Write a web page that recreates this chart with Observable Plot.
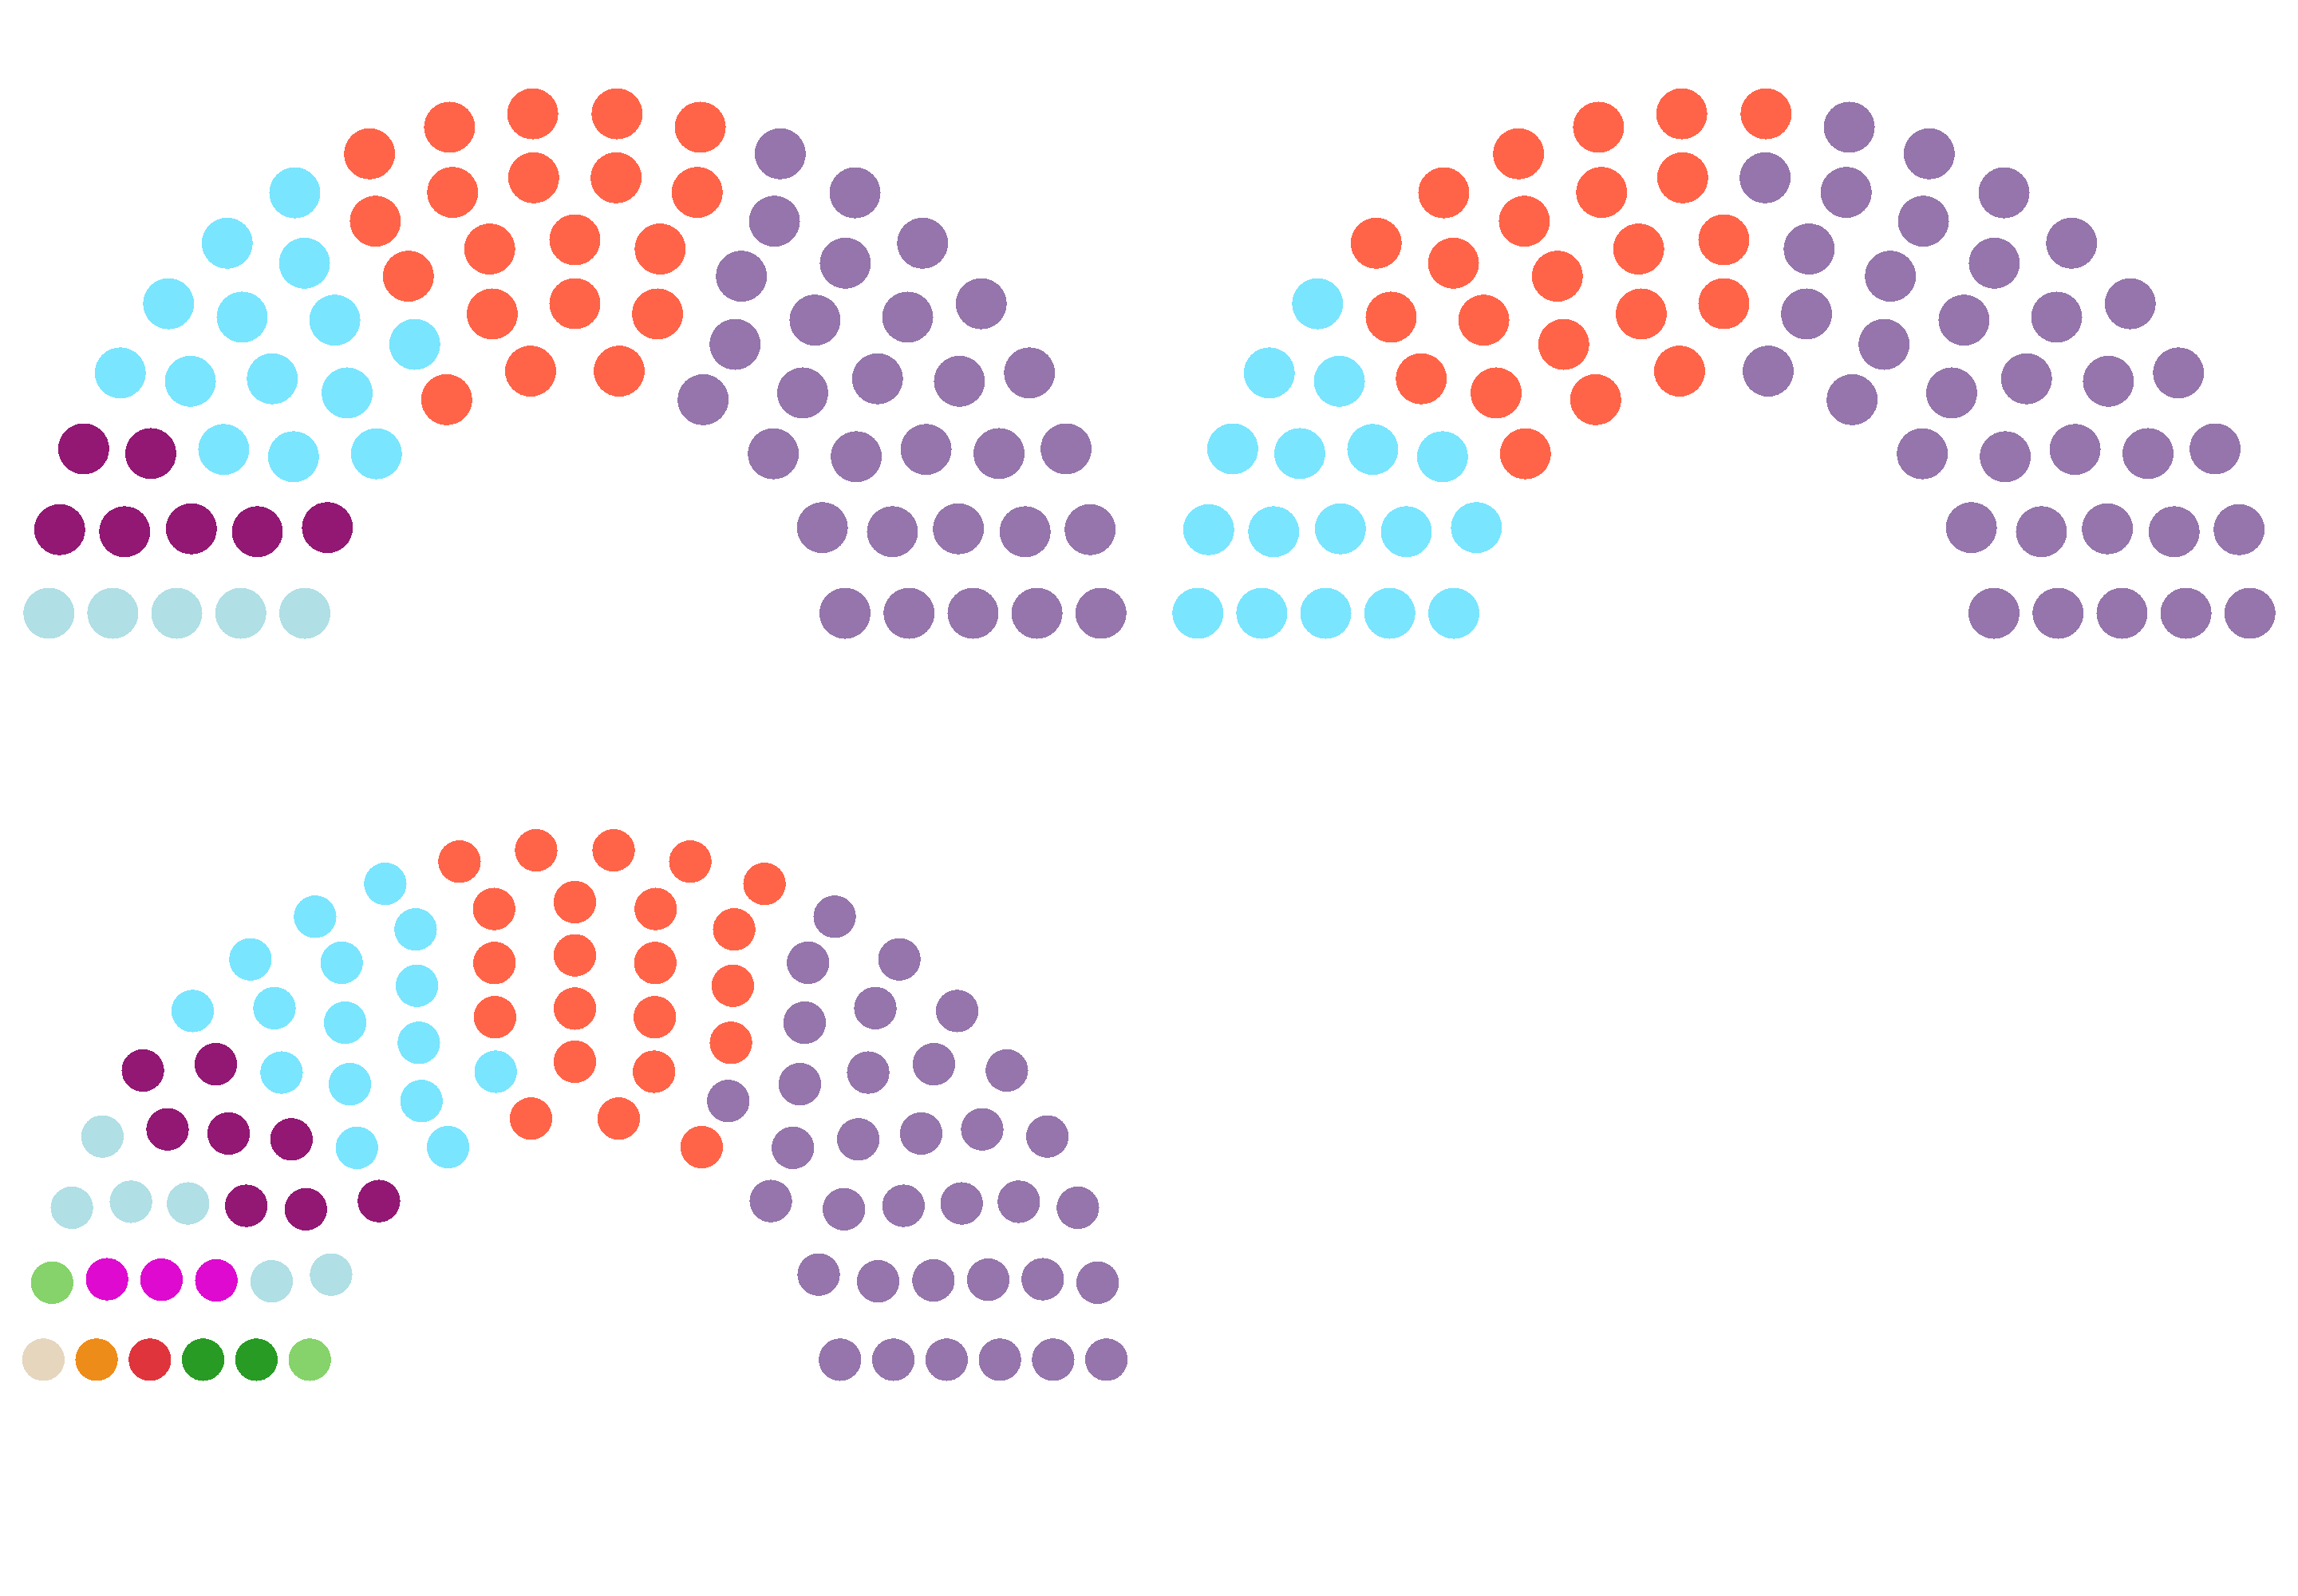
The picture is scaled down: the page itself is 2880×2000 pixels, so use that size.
<!DOCTYPE html>
<html>
<head>
<meta charset="utf-8">
<script src="https://cdn.jsdelivr.net/npm/d3@7"></script>
<script src="https://cdn.jsdelivr.net/npm/@observablehq/plot@0.6"></script>
<style>
  html, body { margin: 0; padding: 0; background: #ffffff; }
  #chart { width: 2880px; height: 2000px; }
  #chart svg circle { shape-rendering: crispEdges; }
</style>
</head>
<body>
<div id="chart"></div>
<script>
// ---------- Data: seats per party, in seating order (left to right) ----------
const partiesA = ["Party A1", "Party A2", "Party A3", "Party A4", "Party A5"];
const seatsA   = [5, 7, 14, 20, 30];

const partiesB = ["Party B1", "Party B2", "Party B3"];
const seatsB   = [17, 23, 36];

const partiesC = ["Party C1", "Party C2", "Party C3", "Party C4", "Party C5", "Party C6",
                  "Party C7", "Party C8", "Party C9", "Party C10", "Party C11"];
const seatsC   = [1, 1, 1, 2, 2, 3, 6, 8, 16, 22, 34];

// ---------- Styles ----------
const coloursA = ["#b0dfe5", "#921874", "#7ae5fe", "#ff6449", "#9575ab"];
const coloursB = ["#7ae5fe", "#ff6449", "#9575ab"];
const coloursC = ["#e6d6be", "#ee8c1a", "#e0343c", "#289b24", "#85d36a", "#df0acf",
                  "#b0dfe5", "#921874", "#7ae5fe", "#ff6449", "#9575ab"];

// ---------- Hemicycle layout (Wikipedia parliament-diagram algorithm) ----------
const TOTALS = [3, 15, 33, 61, 95, 138, 189, 247, 313, 388, 469, 559, 657, 762, 876];

function hemicycle(parties, seats, colours, ox, oy) {
  const total = d3.sum(seats);
  const rows = TOTALS.findIndex(t => t >= total) + 1;
  const radius = 0.4 / rows;
  const pos = [];
  const addRow = (J, R) => {
    if (J === 1) { pos.push({angle: Math.PI / 2, x: 1.75, y: R}); return; }
    for (let j = 0; j < J; j++) {
      const a = j * (Math.PI - 2 * Math.sin(radius / R)) / (J - 1) + Math.sin(radius / R);
      pos.push({angle: a, x: R * Math.cos(a) + 1.75, y: R * Math.sin(a)});
    }
  };
  for (let i = 1; i < rows; i++) {
    const J = Math.floor(total / TOTALS[rows - 1] * Math.PI / (2 * Math.asin(2 / (3 * rows + 4 * i - 2))));
    addRow(J, (3 * rows + 4 * i - 2) / (4 * rows));
  }
  addRow(total - pos.length, (7 * rows - 2) / (4 * rows));
  pos.sort((a, b) => (b.angle - a.angle) || (b.x - a.x) || (b.y - a.y));
  let k = 0;
  seats.forEach((n, p) => {
    for (let s = 0; s < n; s++) {
      const d = pos[k++];
      d.party = parties[p];
      d.colour = colours[p];
      d.gx = ox + d.x + 0.05;
      d.gy = oy + 1.75 - d.y + 0.05;
      d.r = radius;
    }
  });
  return pos;
}

const seatData = [
  ...hemicycle(partiesA, seatsA, coloursA, 0, 0.2),
  ...hemicycle(partiesB, seatsB, coloursB, 3.6, 0.2),
  ...hemicycle(partiesC, seatsC, coloursC, 0, 2.525)
];

const W = 2880, H = 2000, UNIT = 400;

const chart = Plot.plot({
  width: W,
  height: H,
  margin: 0,
  x: {domain: [0, W / UNIT], range: [0, W], axis: null},
  y: {domain: [0, H / UNIT], range: [0, H], axis: null},
  r: {type: "identity"},
  color: {type: "identity"},
  style: {background: "#ffffff"},
  marks: [
    Plot.dot(seatData, {
      x: "gx",
      y: "gy",
      r: d => d.r * UNIT,
      fill: "colour",
      stroke: null,
      title: "party"
    })
  ]
});

document.getElementById("chart").appendChild(chart);
</script>
</body>
</html>
